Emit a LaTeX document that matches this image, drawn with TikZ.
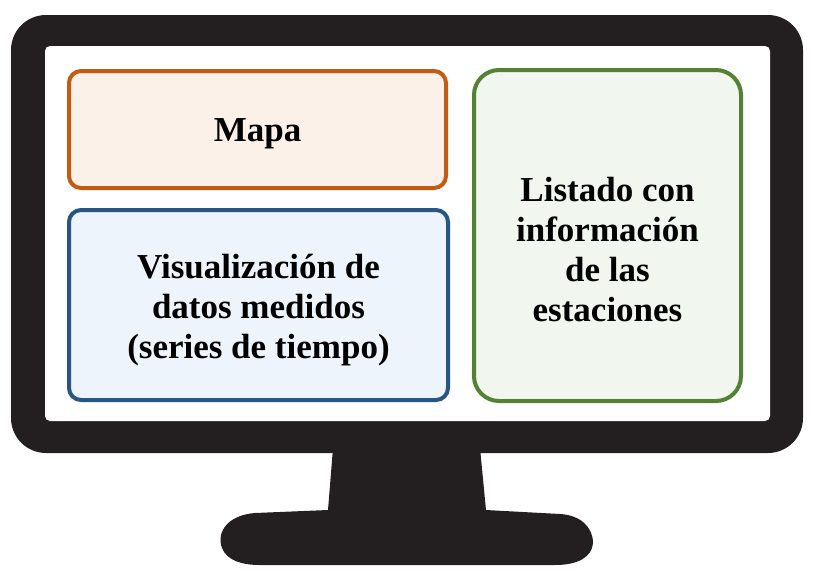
\documentclass[tikz,border=0pt]{standalone}
\usepackage{fontspec}
\setmainfont{Liberation Serif}
\definecolor{bezel}{HTML}{231F20}
\definecolor{orangeline}{HTML}{C55A11}
\definecolor{orangefill}{HTML}{FBF1E9}
\definecolor{blueline}{HTML}{285583}
\definecolor{bluefill}{HTML}{EDF4FB}
\definecolor{greenline}{HTML}{548235}
\definecolor{greenfill}{HTML}{F1F6EE}
\tikzset{
  panel/.style={draw, line width=4pt, inner sep=0pt},
  paneltext/.style={align=center, inner sep=0pt,
    font=\fontsize{35}{40}\selectfont\bfseries},
}
\begin{document}
\begin{tikzpicture}[x=1pt,y=-1pt]
\useasboundingbox (0,0) rectangle (817,574);
% stand
\fill[bezel] (333,448) -- (328,510) -- (255,513)
  .. controls (228,515) and (216,532) .. (222,548)
  .. controls (227,561) and (243,565) .. (260,565) -- (555,565)
  .. controls (578,565) and (592,557) .. (593,543)
  .. controls (593,527) and (580,515) .. (560,514) -- (486,510) -- (480,448) -- cycle;
% monitor body
\fill[bezel, rounded corners=35pt] (11,15) rectangle (803,453);
\fill[white, rounded corners=5pt] (45,46) rectangle (770,421);
% panels
\node[panel, draw=orangeline, fill=orangefill, rounded corners=12pt,
  minimum width=377pt, minimum height=117pt] (mapa) at (257.5,129.5) {};
\node[panel, draw=blueline, fill=bluefill, rounded corners=12pt,
  minimum width=379pt, minimum height=190pt] (viz) at (258.5,305) {};
\node[panel, draw=greenline, fill=greenfill, rounded corners=25pt,
  minimum width=267pt, minimum height=331pt] (lista) at (607.5,235.5) {};
% texts
\node[paneltext, yshift=-4pt] (mapat) at (mapa.center) {Mapa};
\node[paneltext, yshift=-5pt] (vizt) at (viz.center) {Visualización de\\datos medidos\\(series de tiempo)};
\node[paneltext, yshift=-14pt] (listat) at (lista.center) {Listado con\\información\\de las\\estaciones};
\end{tikzpicture}
\end{document}
